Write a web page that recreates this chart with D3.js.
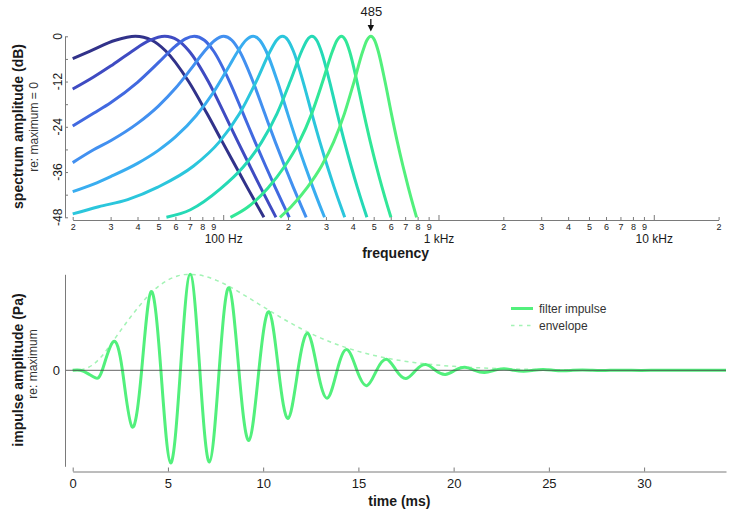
<!DOCTYPE html>
<html>
<head>
<meta charset="utf-8">
<script src="https://cdn.jsdelivr.net/npm/d3@7"></script>
<style>
  html, body { margin: 0; padding: 0; background: #ffffff; }
  svg { display: block; font-family: "Liberation Sans", Arial, Helvetica, sans-serif; }
</style>
</head>
<body>
<svg id="chart" width="738" height="528"></svg>
<script>
// ---------------- DATA ----------------
const centerFreqs = [39.1, 53.5, 73.4, 100.5, 137.7, 188.6, 258.4, 354.0, 485];
const filterColors = ["#31328a", "#3f4bc2", "#4169e0", "#4290f0", "#39adf0", "#2bc6dc", "#25d9b6", "#31e798", "#52f07c"];

// spectrum amplitude (dB re: max) read at frequencies (Hz), one pair of arrays per filter
const specFreqs = [
  [20, 24.1, 31.6, 39.1, 46.6, 54.1, 69.1, 84.1, 99.1, 114.1, 129.1, 144.1, 154.6],
  [20, 25, 30, 37.6, 45.5, 53.5, 61.5, 69.4, 85.3, 101.2, 117.1, 133, 148.9, 164.8, 175.9],
  [20, 25, 30, 40, 50, 60, 66.7, 73.4, 81.8, 90.2, 107, 123.8, 140.6, 157.4, 174.2, 191, 202.8],
  [20, 25, 30, 40, 50, 60, 70, 81.5, 91.25, 100.5, 109.75, 119, 137.5, 156, 174.5, 193, 211.5, 230, 243],
  [20, 25, 30, 40, 50, 60, 75, 90, 107, 117.2, 127.45, 137.7, 147.95, 158.2, 178.7, 199.2, 219.7, 240.2, 260.7, 281.2, 295.6],
  [20, 26.4, 36, 49.7, 72.85, 96, 119.15, 142.3, 165.45, 177, 188.6, 200.2, 211.75, 234.9, 258.05, 281.2, 304.35, 327.5, 350.65, 366.9],
  [54.5, 70.45, 97.3, 124.15, 151, 177.85, 204.7, 231.55, 245, 258.4, 271.8, 285.25, 312.1, 338.95, 365.8, 392.65, 419.5, 446.35, 465.1],
  [108.1, 129.3, 161.4, 193.5, 225.6, 257.7, 289.8, 321.9, 337.95, 354, 370.05, 386.1, 418.2, 450.3, 482.4, 514.5, 546.6, 578.7, 601.2],
  [183.5, 206.75, 246.5, 286.25, 326, 365.75, 405.5, 445.25, 465.1, 485, 504.9, 524.75, 564.5, 604.25, 644, 683.75, 723.5, 763.25, 791.1]
];
const specDb = [
  [-5.9, -3.9, -1.05, 0, -1.05, -3.9, -12, -20.5, -28, -34.4, -40, -44.9, -48],
  [-14.0, -10.8, -7.9, -4.0, -1.1, 0, -1.05, -3.9, -12, -20.5, -28, -34.4, -40, -44.9, -48],
  [-23.8, -20.4, -17.6, -12.2, -7.0, -2.6, -0.7, 0, -1.05, -3.9, -12, -20.5, -28, -34.4, -40, -44.9, -48],
  [-33.5, -30.1, -27.7, -23.1, -18.5, -13.8, -9.05, -4.1, -1.1, 0, -1.05, -3.9, -12, -20.5, -28, -34.4, -40, -44.9, -48],
  [-41.2, -39.2, -37.2, -33.7, -30.25, -26.7, -21.0, -14.9, -7.74, -3.9, -1.05, 0, -1.05, -3.9, -12, -20.5, -28, -34.4, -40, -44.9, -48],
  [-47.1, -45.2, -43.3, -40, -34.4, -28, -20.5, -12, -3.9, -1.05, 0, -1.05, -3.9, -12, -20.5, -28, -34.4, -40, -44.9, -48],
  [-48, -46.0, -40.4, -34.6, -28, -20.5, -12, -3.9, -1.05, 0, -1.05, -3.9, -12, -20.5, -28, -34.4, -40, -44.9, -48],
  [-48, -45.4, -40.2, -34.4, -28, -20.5, -12, -3.9, -1.05, 0, -1.05, -3.9, -12, -20.5, -28, -34.4, -40, -44.9, -48],
  [-48, -45.2, -40, -34.4, -28, -20.5, -12, -3.9, -1.05, 0, -1.05, -3.9, -12, -20.5, -28, -34.4, -40, -44.9, -48]
];

const dbTicks = [0, -6, -12, -18, -24, -30, -36, -42, -48];
const dbTickLabels = ["0", "-12", "-24", "-36", "-48"];
const dbLabelValues = [0, -12, -24, -36, -48];
const freqMinorTicks = [20,30,40,50,60,70,80,90,200,300,400,500,600,700,800,900,2000,3000,4000,5000,6000,7000,8000,9000,20000];
const freqMinorLabels = ["2","3","4","5","6","7","8","9","2","3","4","5","6","7","8","9","2","3","4","5","6","7","8","9","2"];
const freqMajorTicks = [100, 1000, 10000];
const freqMajorLabels = ["100 Hz", "1 kHz", "10 kHz"];
const annotatedFreq = 485;

// impulse response (re: maximum) at times (ms): extrema and zero crossings
const impT = [0, 0.4, 0.8, 1.2, 1.55, 2.12, 2.61, 3.12, 3.62, 4.12, 4.63, 5.14, 5.655, 6.17, 6.675, 7.18, 7.69, 8.2, 8.725, 9.25, 9.775, 10.3, 10.81, 11.31, 11.825, 12.34, 12.855, 13.37, 13.885, 14.4, 14.92, 15.44, 15.955, 16.47, 16.985, 17.5, 18.015, 18.53, 19.045, 19.56, 20.075, 20.59, 21.105, 21.62, 22.135, 22.65, 23.165, 23.68, 24.195, 24.71, 25.225, 25.74, 26.255, 26.77, 27.285, 27.8, 28.315, 28.83, 29.345, 29.86, 30.375, 30.89, 31.405, 31.92, 32.435, 32.95, 33.465, 34.3];
const impV = [0, 0, -0.035, -0.08, 0, 0.295, 0, -0.59, 0, 0.82, 0, -0.965, 0, 1.0, 0, -0.955, 0, 0.86, 0, -0.73, 0, 0.61, 0, -0.5, 0, 0.385, 0, -0.29, 0, 0.215, 0, -0.16, 0, 0.115, 0, -0.085, 0, 0.06, 0, -0.043, 0, 0.032, 0, -0.022, 0, 0.016, 0, -0.011, 0, 0.008, 0, -0.0055, 0, 0.0037, 0, -0.0025, 0, 0.0017, 0, -0.0011, 0, 0.0008, 0, -0.0005, 0, 0.0003, 0, 0];
const envT = [0, 0.5, 1, 1.5, 2, 2.5, 3, 3.5, 4, 4.5, 5, 5.5, 6, 6.5, 7, 7.5, 8, 9, 10, 11, 12, 13, 14, 15, 16, 17, 18, 19, 20, 22, 24, 26, 28, 30, 32, 34.3];
const envV = [0, 0.008, 0.05, 0.14, 0.27, 0.41, 0.545, 0.67, 0.785, 0.875, 0.94, 0.982, 0.999, 0.996, 0.976, 0.941, 0.896, 0.784, 0.662, 0.542, 0.433, 0.338, 0.26, 0.197, 0.147, 0.108, 0.079, 0.057, 0.041, 0.021, 0.010, 0.005, 0.0023, 0.0011, 0.0005, 0.0002];
const timeTicks = [0, 5, 10, 15, 20, 25, 30];
const legendLabels = ["filter impulse", "envelope"];

const impulseColor = "#52f07c";
const envelopeColor = "#a3f3b5";
const axisColor = "#7a7a7a";
const textColor = "#1a1a1a";

// ---------------- CHART ----------------
const svg = d3.select("#chart");

// ---- top panel: spectra ----
const xF = d3.scaleLog().domain([20, 20000]).range([72.7, 718.6]);
const yDb = d3.scaleLinear().domain([-48, 0]).range([217.3, 36.3]);

const specLine = d3.line().x(d => xF(d[0])).y(d => yDb(d[1])).curve(d3.curveMonotoneX);
const topPanel = svg.append("g");
specFreqs.forEach((fs, i) => {
  const pts = fs.map((f, j) => [f, specDb[i][j]]);
  topPanel.append("path")
    .attr("d", specLine(pts))
    .attr("fill", "none")
    .attr("stroke", filterColors[i])
    .attr("stroke-width", 3)
    .attr("stroke-linejoin", "round")
    .attr("stroke-linecap", "butt");
});

// y axis (dB)
const yAxisTop = svg.append("g").attr("transform", "translate(65,0)")
  .call(d3.axisLeft(yDb).tickValues(dbTicks).tickSize(-3).tickSizeOuter(0).tickFormat(""));
yAxisTop.selectAll("path, line").attr("stroke", axisColor);
svg.append("g").selectAll("text").data(dbLabelValues).join("text")
  .attr("transform", (d) => `translate(61.5,${yDb(d)}) rotate(-90)`)
  .attr("text-anchor", "middle")
  .attr("font-size", 12)
  .attr("fill", textColor)
  .text((d, i) => dbTickLabels[i]);

// x axis (frequency) - minor digits
const xAxisMinor = svg.append("g").attr("transform", "translate(0,220)")
  .call(d3.axisBottom(xF).tickValues(freqMinorTicks).tickSize(-3).tickSizeOuter(0).tickPadding(4)
    .tickFormat((d, i) => freqMinorLabels[i]));
xAxisMinor.selectAll("path, line").attr("stroke", axisColor);
xAxisMinor.selectAll("text").attr("font-size", 9).attr("fill", textColor).attr("font-family", null);
// major decades
const xAxisMajor = svg.append("g").attr("transform", "translate(0,220)")
  .call(d3.axisBottom(xF).tickValues(freqMajorTicks).tickSize(-5).tickSizeOuter(0).tickPadding(14)
    .tickFormat((d, i) => freqMajorLabels[i]));
xAxisMajor.select(".domain").remove();
xAxisMajor.selectAll("line").attr("stroke", axisColor);
xAxisMajor.selectAll("text").attr("font-size", 12).attr("fill", textColor).attr("font-family", null);

svg.append("text").attr("x", 395.6).attr("y", 258).attr("text-anchor", "middle")
  .attr("font-size", 14).attr("font-weight", "bold").attr("fill", textColor).text("frequency");
svg.append("text").attr("transform", "translate(22.5,126.5) rotate(-90)").attr("text-anchor", "middle")
  .attr("font-size", 14).attr("font-weight", "bold").attr("fill", textColor).text("spectrum amplitude (dB)");
svg.append("text").attr("transform", "translate(37.5,127) rotate(-90)").attr("text-anchor", "middle")
  .attr("font-size", 12).attr("fill", "#333").text("re: maximum = 0");

// annotation arrow at 485 Hz
const ax = xF(annotatedFreq);
svg.append("line").attr("x1", ax).attr("x2", ax).attr("y1", 19).attr("y2", 26)
  .attr("stroke", "#111").attr("stroke-width", 1.3);
svg.append("path").attr("d", `M${ax - 3.2},25 L${ax + 3.2},25 L${ax},31.5 Z`).attr("fill", "#111");
svg.append("text").attr("x", ax + 0.5).attr("y", 16.3).attr("text-anchor", "middle")
  .attr("font-size", 13).attr("fill", textColor).text(String(annotatedFreq));

// ---- bottom panel: impulse ----
const xT = d3.scaleLinear().domain([0, 34.3]).range([72.7, 726]);
const yI = d3.scaleLinear().domain([-1, 1]).range([466.3, 274.3]);

const envLine = d3.line().x(d => xT(d[0])).y(d => yI(d[1])).curve(d3.curveMonotoneX);
svg.append("path").attr("d", envLine(envT.map((t, i) => [t, envV[i]])))
  .attr("fill", "none").attr("stroke", envelopeColor).attr("stroke-width", 1.5)
  .attr("stroke-dasharray", "4,4");

const impLine = d3.line().x(d => xT(d[0])).y(d => yI(d[1])).curve(d3.curveNatural);
svg.append("path").attr("d", impLine(impT.map((t, i) => [t, impV[i]])))
  .attr("fill", "none").attr("stroke", impulseColor).attr("stroke-width", 3)
  .attr("stroke-linejoin", "round");

// zero line
svg.append("line").attr("x1", 65.5).attr("x2", xT(34.3)).attr("y1", yI(0)).attr("y2", yI(0))
  .attr("stroke", "#4a4a4a").attr("stroke-width", 1).attr("opacity", 0.85);

// y axis (impulse)
const yAxisBot = svg.append("g").attr("transform", "translate(65,0)")
  .call(d3.axisLeft(yI).tickValues([]).tickSizeOuter(0));
yAxisBot.selectAll("path").attr("stroke", axisColor);
svg.append("text").attr("x", 60).attr("y", yI(0)).attr("dy", "0.35em").attr("text-anchor", "end")
  .attr("font-size", 13).attr("fill", textColor).text("0");

// x axis (time)
const xAxisBot = svg.append("g").attr("transform", "translate(0,471.5)")
  .call(d3.axisBottom(xT).tickValues(timeTicks).tickSize(-4).tickSizeOuter(0).tickPadding(7));
xAxisBot.selectAll("path, line").attr("stroke", axisColor);
xAxisBot.selectAll("text").attr("font-size", 13).attr("fill", textColor).attr("font-family", null);

svg.append("text").attr("x", xT(34.3 / 2)).attr("y", 506).attr("text-anchor", "middle")
  .attr("font-size", 14).attr("font-weight", "bold").attr("fill", textColor).text("time (ms)");
svg.append("text").attr("transform", "translate(22.5,370) rotate(-90)").attr("text-anchor", "middle")
  .attr("font-size", 14).attr("font-weight", "bold").attr("fill", textColor).text("impulse amplitude (Pa)");
svg.append("text").attr("transform", "translate(37,364) rotate(-90)").attr("text-anchor", "middle")
  .attr("font-size", 12).attr("fill", "#333").text("re: maximum");

// legend
const leg = svg.append("g");
leg.append("line").attr("x1", 511).attr("x2", 533).attr("y1", 308.5).attr("y2", 308.5)
  .attr("stroke", impulseColor).attr("stroke-width", 3);
leg.append("line").attr("x1", 511).attr("x2", 533).attr("y1", 325.5).attr("y2", 325.5)
  .attr("stroke", envelopeColor).attr("stroke-width", 1.5).attr("stroke-dasharray", "3.5,4.5");
leg.selectAll("text.lg").data(legendLabels).join("text").attr("class", "lg")
  .attr("x", 539).attr("y", (d, i) => 308.5 + i * 17).attr("dy", "0.35em")
  .attr("font-size", 12).attr("fill", "#333").text(d => d);
</script>
</body>
</html>
